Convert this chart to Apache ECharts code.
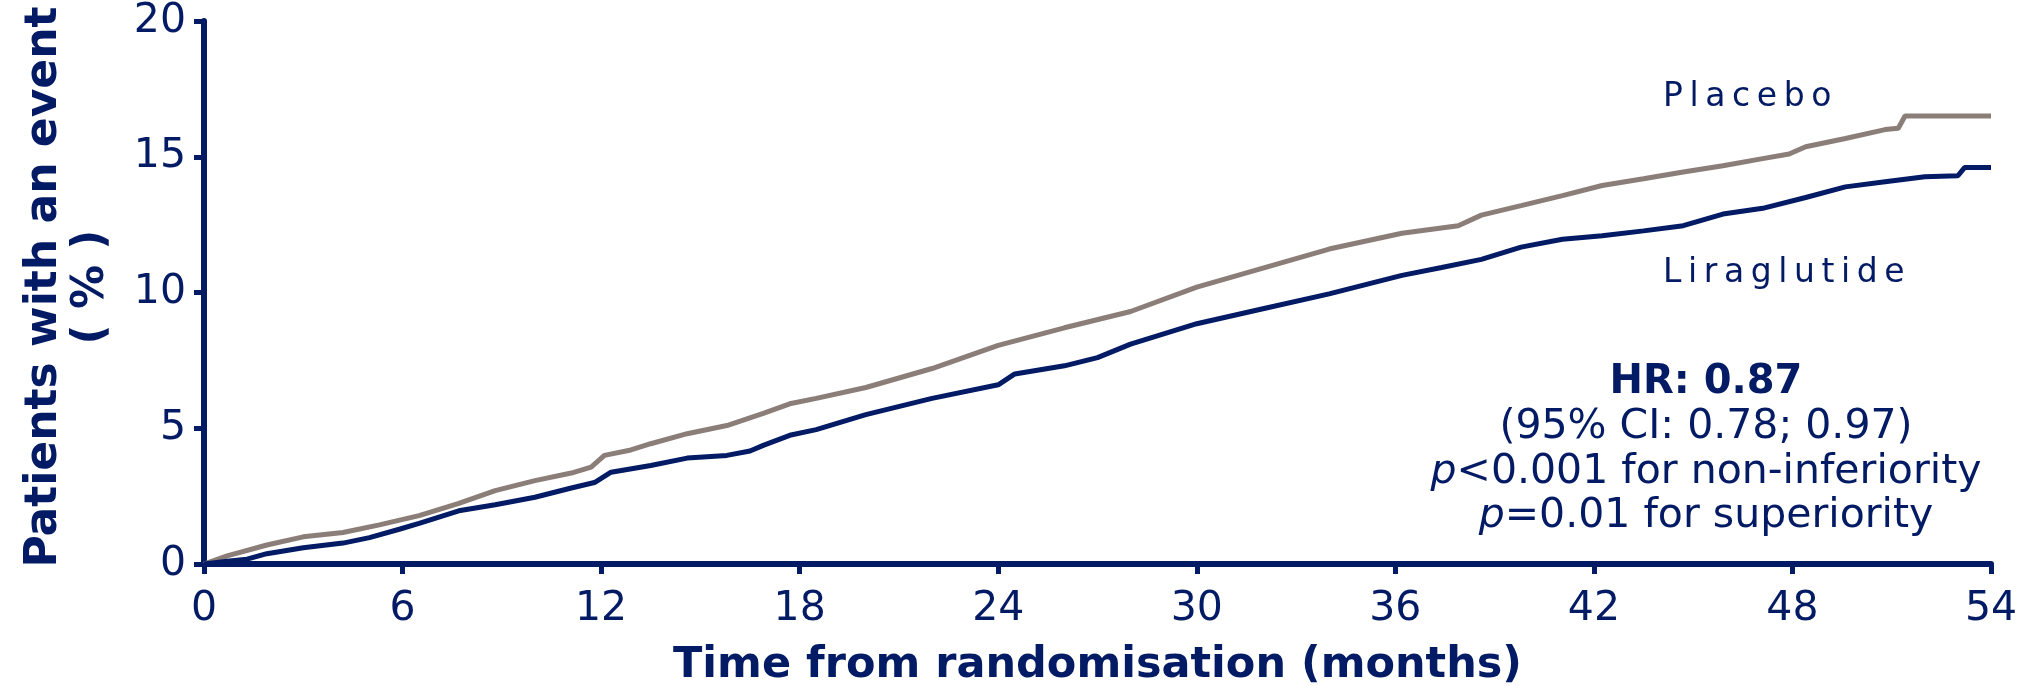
<!DOCTYPE html>
<html>
<head>
<meta charset="utf-8">
<script src="https://cdn.jsdelivr.net/npm/echarts@6/dist/echarts.min.js"></script>
<style>
html,body{margin:0;padding:0;background:#fff;}
#chart{width:2034px;height:686px;}
</style>
</head>
<body>
<div id="chart"></div>
<script>
// ---- Data ----
var placeboMonths = [0, 0.7, 1.9, 3.0, 4.2, 5.3, 6.5, 7.7, 8.8, 10.0, 11.1, 11.7, 12.1, 12.9, 13.5, 14.6, 15.8, 16.9, 17.7, 18.5, 20, 22, 24, 26, 28, 30, 32, 34, 36.2, 37.9, 38.6, 39.8, 41.05, 42.25, 43.5, 44.7, 45.9, 47.1, 47.9, 48.4, 49.6, 50.8, 51.2, 51.4, 54];
var placeboPct    = [0, 0.3, 0.7, 1.0, 1.16, 1.44, 1.78, 2.23, 2.7, 3.07, 3.35, 3.57, 4.0, 4.2, 4.43, 4.8, 5.1, 5.55, 5.9, 6.1, 6.5, 7.2, 8.05, 8.7, 9.3, 10.2, 10.9, 11.6, 12.18, 12.46, 12.85, 13.2, 13.57, 13.94, 14.19, 14.44, 14.67, 14.93, 15.1, 15.37, 15.67, 16.0, 16.05, 16.5, 16.5];
var liraMonths = [0, 0.7, 1.3, 1.9, 3.0, 4.2, 5.0, 5.9, 6.5, 7.7, 8.8, 10.0, 11.1, 11.8, 12.3, 13.5, 14.6, 15.8, 16.5, 16.9, 17.7, 18.5, 20, 22, 24, 24.5, 26, 27, 28, 30, 32, 34, 36.2, 37.4, 38.6, 39.8, 41.05, 42.25, 43.5, 44.7, 45.9, 47.1, 48.4, 49.6, 50.8, 52.0, 53.0, 53.2, 54];
var liraPct    = [0, 0.1, 0.18, 0.38, 0.6, 0.77, 0.97, 1.28, 1.5, 1.96, 2.18, 2.46, 2.8, 3.0, 3.38, 3.63, 3.9, 4.0, 4.16, 4.37, 4.74, 4.95, 5.5, 6.1, 6.6, 7.0, 7.3, 7.6, 8.1, 8.85, 9.4, 9.95, 10.63, 10.92, 11.22, 11.67, 11.96, 12.09, 12.27, 12.46, 12.89, 13.1, 13.5, 13.89, 14.08, 14.26, 14.3, 14.6, 14.6];
var seriesNames = ['Placebo', 'Liraglutide'];
var xTicks = [0, 6, 12, 18, 24, 30, 36, 42, 48, 54];
var yTicks = [0, 5, 10, 15, 20];
var xTitle = 'Time from randomisation (months)';
var yTitleLines = ['Patients with an event', '(%)'];
var statsLines = ['HR: 0.87', '(95% CI: 0.78; 0.97)', '<0.001 for non-inferiority', '=0.01 for superiority'];

// ---- Styling ----
var NAVY = '#031a64';
var GREY = '#8b7e78';
var FONT = '"DejaVu Sans", Verdana, sans-serif';

function pairs(xs, ys){ return xs.map(function(x,i){ return [x, ys[i]]; }); }
function spaced(s, sep){ return s.split('').join(sep || '\u2009'); }

var chart = echarts.init(document.getElementById('chart'), null, {renderer:'canvas'});
chart.setOption({
  animation: false,
  backgroundColor: '#ffffff',
  grid: {left: 204, right: 43, top: 21, bottom: 122, containLabel: false, outerBoundsMode: 'none'},
  xAxis: {
    type: 'value', min: xTicks[0], max: xTicks[xTicks.length-1], interval: 6,
    name: xTitle, nameLocation: 'middle', nameGap: 80,
    nameTextStyle: {color: NAVY, fontFamily: FONT, fontWeight: 'bold', fontSize: 43},
    axisLine: {show: true, onZero: false, lineStyle: {color: NAVY, width: 6}},
    axisTick: {show: true, inside: false, length: 10, lineStyle: {color: NAVY, width: 5}},
    axisLabel: {color: NAVY, fontFamily: FONT, fontSize: 41, margin: 25},
    splitLine: {show: false}
  },
  yAxis: {
    type: 'value', min: yTicks[0], max: yTicks[yTicks.length-1], interval: 5,
    axisLine: {show: true, onZero: false, lineStyle: {color: NAVY, width: 6}},
    axisTick: {show: true, inside: false, length: 10, lineStyle: {color: NAVY, width: 5}},
    axisLabel: {color: NAVY, fontFamily: FONT, fontSize: 41, margin: 18},
    splitLine: {show: false}
  },
  series: [
    {name: seriesNames[0], type: 'line', data: pairs(placeboMonths, placeboPct), showSymbol: false,
     lineStyle: {color: GREY, width: 5}, itemStyle: {color: GREY}, z: 2},
    {name: seriesNames[1], type: 'line', data: pairs(liraMonths, liraPct), showSymbol: false,
     lineStyle: {color: NAVY, width: 5}, itemStyle: {color: NAVY}, z: 3}
  ],
  graphic: [
    {type: 'text', x: 45, y: 287, rotation: Math.PI/2,
     style: {text: yTitleLines[0], fill: NAVY, font: 'bold 44px ' + FONT, textAlign: 'center', textVerticalAlign: 'middle'}},
    {type: 'text', x: 92, y: 287, rotation: Math.PI/2,
     style: {text: spaced(yTitleLines[1], ' '), fill: NAVY, font: 'bold 44px ' + FONT, textAlign: 'center', textVerticalAlign: 'middle'}},
    {type: 'text', x: 1663, y: 97,
     style: {text: spaced(seriesNames[0]), fill: NAVY, font: '33px ' + FONT, textAlign: 'left', textVerticalAlign: 'middle'}},
    {type: 'text', x: 1663, y: 273,
     style: {text: spaced(seriesNames[1]), fill: NAVY, font: '33px ' + FONT, textAlign: 'left', textVerticalAlign: 'middle'}},
    {type: 'text', x: 1706, y: 383,
     style: {text: statsLines[0], fill: NAVY, font: 'bold 40px ' + FONT, textAlign: 'center', textVerticalAlign: 'middle'}},
    {type: 'text', x: 1706, y: 427,
     style: {text: statsLines[1], fill: NAVY, font: '41px ' + FONT, textAlign: 'center', textVerticalAlign: 'middle'}},
    {type: 'text', x: 1706, y: 472,
     style: {text: '{i|p}{n|' + statsLines[2] + '}', textAlign: 'center', textVerticalAlign: 'middle',
       rich: {i: {fill: NAVY, fontFamily: FONT, fontSize: 41, fontStyle: 'italic'}, n: {fill: NAVY, fontFamily: FONT, fontSize: 41}}}},
    {type: 'text', x: 1706, y: 516,
     style: {text: '{i|p}{n|' + statsLines[3] + '}', textAlign: 'center', textVerticalAlign: 'middle',
       rich: {i: {fill: NAVY, fontFamily: FONT, fontSize: 41, fontStyle: 'italic'}, n: {fill: NAVY, fontFamily: FONT, fontSize: 41}}}}
  ]
});
</script>
</body>
</html>
